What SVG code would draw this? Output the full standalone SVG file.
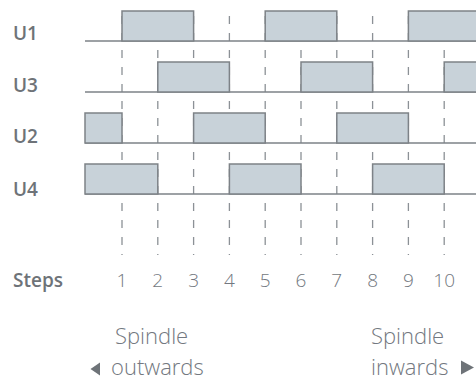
<svg xmlns="http://www.w3.org/2000/svg" width="476" height="382" viewBox="0 0 476 382">
<style>
.lbl{font-family:"Open Sans","Liberation Sans",sans-serif;font-weight:600;font-size:19px;fill:#6e7378}
.num{font-family:"Open Sans","Liberation Sans",sans-serif;font-weight:300;font-size:19px;fill:#737880;text-anchor:middle}
.cap{font-family:"Open Sans","Liberation Sans",sans-serif;font-weight:300;font-size:22px;fill:#737880}
.dash{stroke:#8c9196;stroke-width:1.3;stroke-dasharray:8 9;fill:none}
.base{stroke:#7d8287;stroke-width:1.5;fill:none}
.box{fill:#c8d2d9;stroke:#7d8287;stroke-width:1.5}
.tri{fill:#6e7378}
</style>
<rect width="476" height="382" fill="#ffffff"/>
<g id="connectors">
<line class="dash" x1="122" y1="16" x2="122" y2="255"/>
<line class="dash" x1="157.8" y1="16" x2="157.8" y2="255"/>
<line class="dash" x1="193.6" y1="16" x2="193.6" y2="255"/>
<line class="dash" x1="229.4" y1="16" x2="229.4" y2="255"/>
<line class="dash" x1="265.2" y1="16" x2="265.2" y2="255"/>
<line class="dash" x1="301" y1="16" x2="301" y2="255"/>
<line class="dash" x1="336.8" y1="16" x2="336.8" y2="255"/>
<line class="dash" x1="372.6" y1="16" x2="372.6" y2="255"/>
<line class="dash" x1="408.4" y1="16" x2="408.4" y2="255"/>
<line class="dash" x1="444.2" y1="16" x2="444.2" y2="255"/>
<line class="base" x1="85" y1="41" x2="476" y2="41"/>
<line class="base" x1="85" y1="92" x2="476" y2="92"/>
<line class="base" x1="85" y1="143" x2="476" y2="143"/>
<line class="base" x1="85" y1="194" x2="476" y2="194"/>
</g>
<g id="U1">
<text class="lbl" x="13" y="40">U1</text>
<rect class="box" x="122" y="11" width="71.6" height="30"/>
<rect class="box" x="265.2" y="11" width="71.6" height="30"/>
<rect class="box" x="408.4" y="11" width="80" height="30"/>
</g>
<g id="U3">
<text class="lbl" x="13" y="92">U3</text>
<rect class="box" x="157.8" y="62" width="71.6" height="30"/>
<rect class="box" x="301" y="62" width="71.6" height="30"/>
<rect class="box" x="444.2" y="62" width="40" height="30"/>
</g>
<g id="U2">
<text class="lbl" x="13" y="143">U2</text>
<rect class="box" x="85" y="113" width="37" height="30"/>
<rect class="box" x="193.6" y="113" width="71.6" height="30"/>
<rect class="box" x="336.8" y="113" width="71.6" height="30"/>
</g>
<g id="U4">
<text class="lbl" x="13" y="196">U4</text>
<rect class="box" x="85" y="164" width="72.8" height="30"/>
<rect class="box" x="229.4" y="164" width="71.6" height="30"/>
<rect class="box" x="372.6" y="164" width="71.6" height="30"/>
</g>
<g id="steps">
<text class="lbl" x="13" y="287">Steps</text>
<text class="num" x="122" y="287">1</text>
<text class="num" x="157.8" y="287">2</text>
<text class="num" x="193.6" y="287">3</text>
<text class="num" x="229.4" y="287">4</text>
<text class="num" x="265.2" y="287">5</text>
<text class="num" x="301" y="287">6</text>
<text class="num" x="336.8" y="287">7</text>
<text class="num" x="372.6" y="287">8</text>
<text class="num" x="408.4" y="287">9</text>
<text class="num" x="444.2" y="287">10</text>
</g>
<g id="outwards">
<text class="cap" x="115" y="344">Spindle</text>
<polygon class="tri" points="90.5,369 100,362.5 100,375.5"/>
<text class="cap" x="111" y="375">outwards</text>
</g>
<g id="inwards">
<text class="cap" x="371" y="344">Spindle</text>
<text class="cap" x="371" y="375">inwards</text>
<polygon class="tri" points="474,367.5 461,360.5 461,374.5"/>
</g>
</svg>
